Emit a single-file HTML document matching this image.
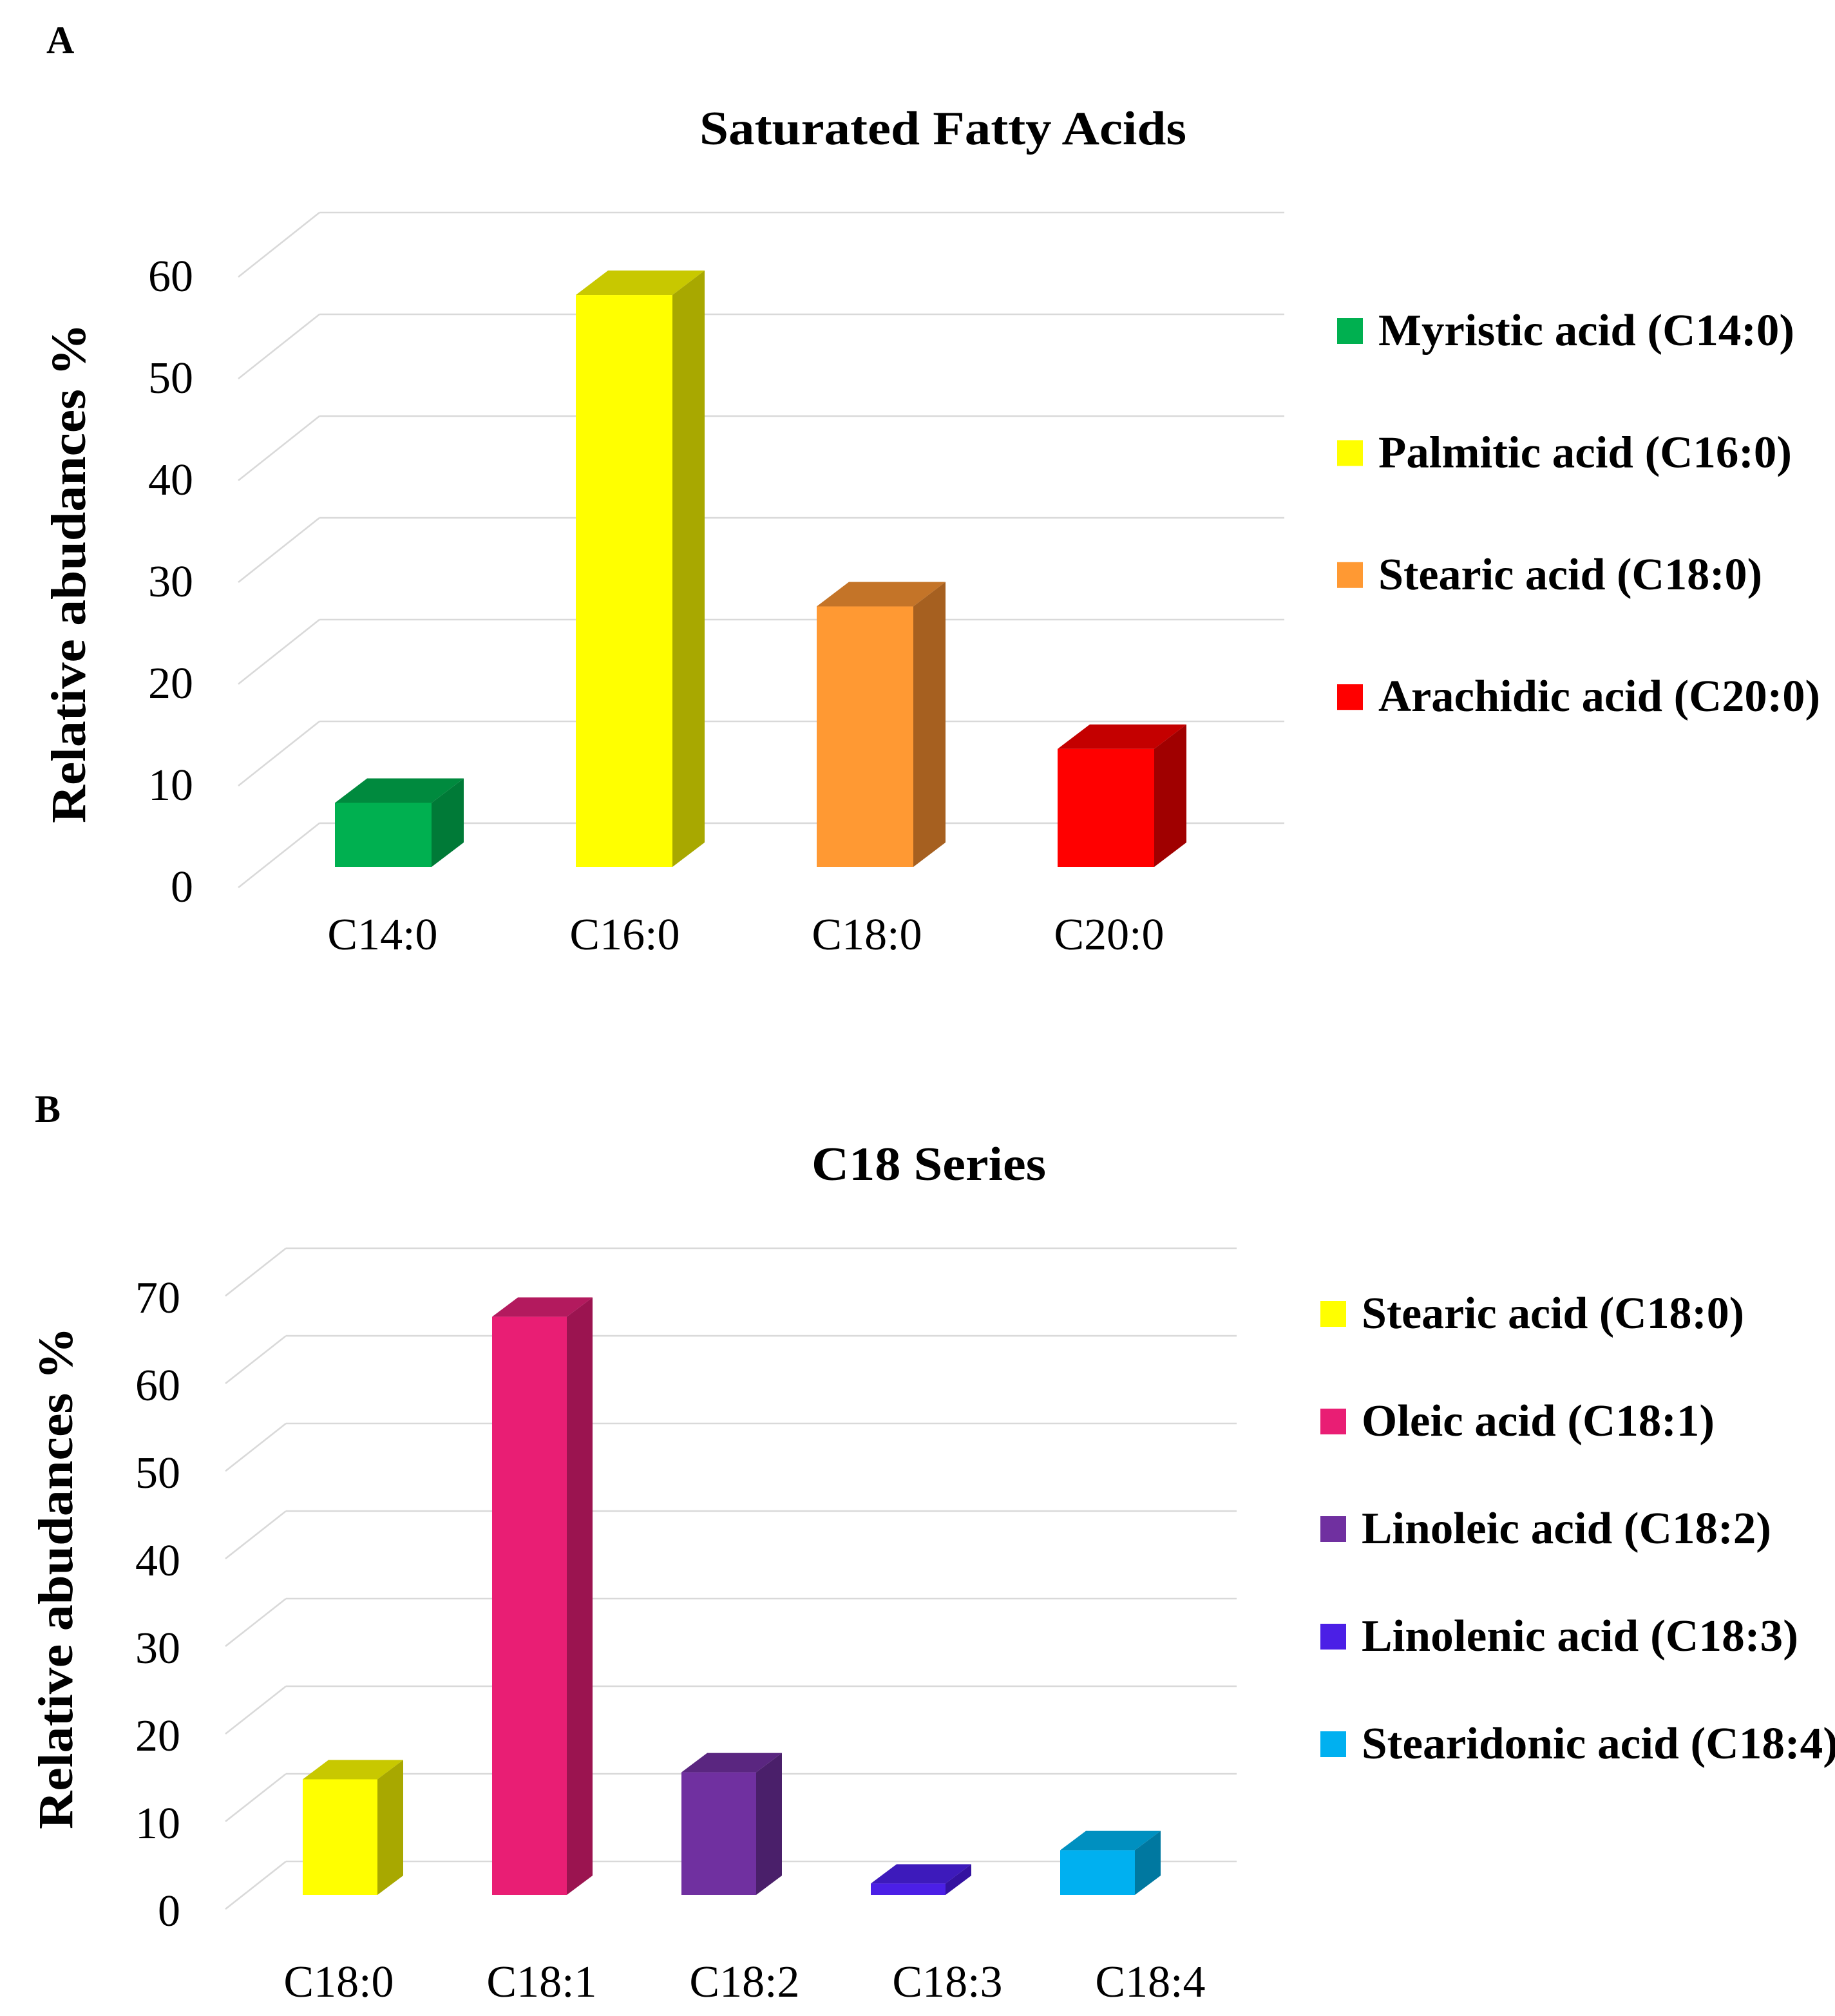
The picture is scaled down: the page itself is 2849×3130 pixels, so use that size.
<!DOCTYPE html>
<html><head><meta charset="utf-8"><style>
html,body{margin:0;padding:0;background:#fff;}
svg{display:block;}
text{font-family:"Liberation Serif",serif;fill:#000;}
</style></head><body>
<svg id="fig" width="2849" height="3130" viewBox="0 0 1424.5 1565" xmlns="http://www.w3.org/2000/svg">
<rect x="0" y="0" width="1424.5" height="1565" fill="#fff"/>
<g id="A"></g>
<g id="B"></g>
</svg>
<script>
// Panel A data
const catsA = ["C14:0","C16:0","C18:0","C20:0"];
const valsA = [6.3, 56.2, 25.6, 11.6];
const legendA = ["Myristic acid (C14:0)","Palmitic acid (C16:0)","Stearic acid (C18:0)","Arachidic acid (C20:0)"];
const ticksA = [0,10,20,30,40,50,60];
// Panel B data
const catsB = ["C18:0","C18:1","C18:2","C18:3","C18:4"];
const valsB = [13.2, 66.0, 14.0, 1.3, 5.1];
const legendB = ["Stearic acid (C18:0)","Oleic acid (C18:1)","Linoleic acid (C18:2)","Linolenic acid (C18:3)","Stearidonic acid (C18:4)"];
const ticksB = [0,10,20,30,40,50,60,70];

const NS = "http://www.w3.org/2000/svg";
function mk(parent, tag, attrs, txt){
  const e = document.createElementNS(NS, tag);
  for (const k in attrs) e.setAttribute(k, attrs[k]);
  if (txt !== undefined) e.textContent = txt;
  parent.appendChild(e);
  return e;
}

function drawChart(g, cfg, cats, vals, legend, ticks){
  const c = cfg;
  ticks.forEach((t,i)=>{
    const yb = c.backY0 - t*c.pxPer;
    const ln = mk(g,"line",{x1:c.backX,y1:yb,x2:c.backRight,y2:yb,stroke:"#d9d9d9","stroke-width":1.3});
    
    
    const dg = mk(g,"line",{x1:c.backX,y1:yb,x2:c.backX+c.diagDx,y2:yb+c.diagDy,stroke:"#d9d9d9","stroke-width":1.3});
    
    
    const tl = mk(g,"text",{x:c.tickX,y:c.tickY0 - t*c.pxPer,"text-anchor":"end","font-size":c.tickFs},String(t));
    
    
  });
  cats.forEach((cat,i)=>{
    const x = c.x0 + i*c.step;
    const yt = c.baseY - vals[i]*c.pxPer;
    const w = c.bw, dx = c.dx, dy = c.dy;
    const bar = mk(g,"g",{});
    
    
    mk(bar,"polygon",{points:`${x},${yt} ${x+dx},${yt-dy} ${x+w+dx},${yt-dy} ${x+w},${yt}`,fill:c.colors[i][2]});
    mk(bar,"polygon",{points:`${x+w},${yt} ${x+w+dx},${yt-dy} ${x+w+dx},${c.baseY-dy} ${x+w},${c.baseY}`,fill:c.colors[i][1]});
    mk(bar,"rect",{x:x,y:yt,width:w,height:c.baseY-yt,fill:c.colors[i][0]});
    const xl = mk(g,"text",{x:c.lab0 + i*c.labStep,y:c.labY,"text-anchor":"middle","font-size":c.tickFs},cat);
    
    
  });
  legend.forEach((l,i)=>{
    const y = c.legY0 + i*c.legStep;
    const le = mk(g,"g",{});
    
    
    mk(le,"rect",{x:c.legX,y:y-10,width:20,height:20,fill:c.colors[i][0]});
    mk(le,"text",{x:c.legX+32,y:y+11,"font-size":c.legFs,"font-weight":"bold",textLength:c.legW[i],lengthAdjust:"spacingAndGlyphs"},l);
  });
  const tt = mk(g,"text",{x:c.titleX,y:c.titleY,"text-anchor":"middle","font-size":c.titleFs,"font-weight":"bold",textLength:c.titleW,lengthAdjust:"spacingAndGlyphs"},c.title);
  
  
  const yt = mk(g,"text",{x:0,y:0,"text-anchor":"middle","font-size":c.ytFs,"font-weight":"bold",transform:`translate(${c.ytX},${c.ytY}) rotate(-90)`,textLength:c.ytW,lengthAdjust:"spacingAndGlyphs"},"Relative abudances %");
  
  
  const pl = mk(g,"text",{x:c.letX,y:c.letY,"font-size":30,"font-weight":"bold"},c.letter);
  
  
}

drawChart(document.getElementById('A'), {
  backX:248, backRight:997, backY0:639, diagDx:-63, diagDy:50, pxPer:7.9,
  tickX:150, tickY0:700, tickFs:35,
  x0:260, step:187, bw:75, dx:25, dy:19, baseY:673, labY:737, lab0:297, labStep:188,
  colors:[["#00b050","#007a37","#008a3e"],["#ffff00","#a8a800","#c8c800"],["#ff9933","#a66020","#c47428"],["#ff0000","#a00000","#c40000"]],
  legX:1038, legY0:257, legStep:94.7, legFs:35, legW:[323,321,298,343],
  title:"Saturated Fatty Acids", titleX:732, titleY:112, titleFs:37, titleW:378,
  ytX:66, ytY:445, ytFs:38, ytW:388, letter:"A", letX:36, letY:41
}, catsA, valsA, legendA, ticksA);

drawChart(document.getElementById('B'), {
  backX:222, backRight:960, backY0:1445, diagDx:-47, diagDy:37, pxPer:6.8,
  tickX:140, tickY0:1495, tickFs:35,
  x0:235, step:147, bw:58, dx:20, dy:15, baseY:1471, labY:1550, lab0:263, labStep:157.5,
  colors:[["#ffff00","#a8a800","#c8c800"],["#e91e74","#9b1450","#b31a5e"],["#7030a0","#4a1f6a","#5a2680"],["#4b1fe6","#3412a0","#3d1abb"],["#00b0f0","#0078a0","#0090c0"]],
  legX:1025, legY0:1020, legStep:83.5, legFs:35, legW:[297,274,318,339,370],
  title:"C18 Series", titleX:721, titleY:916, titleFs:37, titleW:182,
  ytX:56, ytY:1225, ytFs:38, ytW:390, letter:"B", letX:27, letY:871
}, catsB, valsB, legendB, ticksB);
</script>
</body></html>
